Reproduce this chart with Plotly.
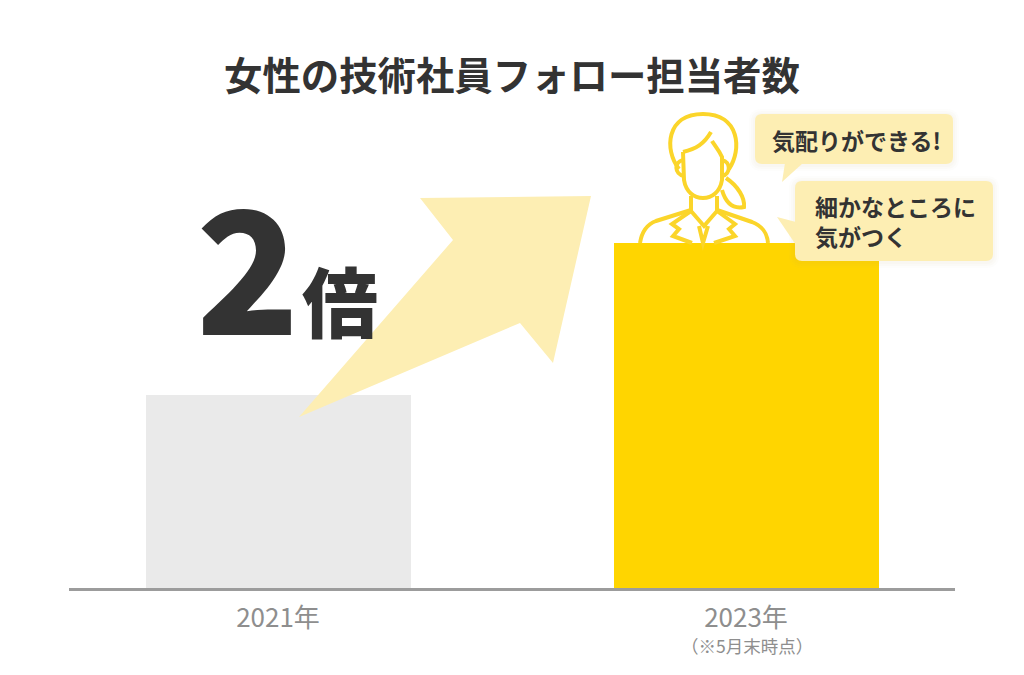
import plotly.graph_objects as go

categories = ["2021年", "2023年"]
values = [1.0, 1.788]
bar_colors = ["#EAEAEA", "#FFD500"]
title = "女性の技術社員フォロー担当者数"
note = "（※5月末時点）"
bubble_1 = "気配りができる!"
bubble_2_lines = ["細かなところに", "気がつく"]
W, H = 1024, 675
FONT = "Noto Sans CJK JP"
INK = "#333333"
TINT = "#FDEEB3"
GOLD = "#FBD52A"


def rrect(x0, y0, x1, y1, r=7):
    return (f"M{x0+r},{y0} L{x1-r},{y0} Q{x1},{y0} {x1},{y0+r} L{x1},{y1-r} Q{x1},{y1} {x1-r},{y1} "
            f"L{x0+r},{y1} Q{x0},{y1} {x0},{y1-r} L{x0},{y0+r} Q{x0},{y0} {x0+r},{y0} Z")


def fill(path, color=TINT, layer="above"):
    return dict(type="path", path=path, xref="x2", yref="y2", fillcolor=color,
                line=dict(width=0), layer=layer)


def stroke(path, w=4):
    return dict(type="path", path=path, xref="x2", yref="y2",
                line=dict(color=GOLD, width=w), layer="above")


shapes = []
# arrow
shapes.append(fill("M299,417 L453,240 L420,198 L591,196 L553,363 L520,323 Z"))
# person
person = [
    "M679,169 C664,150 666,114 703,114 C740,114 742,150 729,169",          # hair
    "M683,152 L684,180 C686,192 694,198 703,198 C712,198 720,192 722,180 L722,157 C719,150 715,146 712,141",  # face
    "M683,152 C696,149 704,144 711,132",                                   # parting
    "M683,160 C674,162 674,174 684,176",                                   # left ear
    "M722,160 C731,162 731,174 722,176",                                   # right ear
    "M726,178 C738,186 745,198 744,207 C734,209 726,204 722,190",          # ponytail
    "M691,196 L691,211 M717,196 L717,211",                                 # neck
    "M640,243 C642,230 648,224 656,221 L691,210 M717,210 L752,222 C762,226 767,232 768,243",  # shoulders
    "M691,211 L672,224 L679,229 L673,236 L692,243 M717,211 L735,224 L729,229 L735,236 L714,243",  # lapels
    "M691,211 L704,226 L717,211 M699,226 L703,243 L708,226",               # collar and tie
]
shapes += [stroke(p) for p in person]
# bubble soft shadows
for grow, alpha in ((6, 0.025), (4, 0.03), (2, 0.035)):
    shapes.append(fill(rrect(755-grow, 114-grow+1, 953+grow, 164+grow+1, 7+grow), f"rgba(190,170,110,{alpha})"))
    shapes.append(fill(rrect(795-grow, 181-grow+1, 993+grow, 261+grow+1, 7+grow), f"rgba(190,170,110,{alpha})"))
# bubbles
shapes.append(fill(rrect(755, 114, 953, 164)))
shapes.append(fill("M785,163 L782,182 L803,163 Z"))
shapes.append(fill(rrect(795, 181, 993, 261)))
shapes.append(fill("M796,222 L777,217 L796,245 Z"))


def text(x, y, s, size, color=INK, weight=700, anchor="center", align="center"):
    return dict(x=x, y=y, xref="x2", yref="y2", text=s, showarrow=False, xanchor=anchor, yanchor="middle",
                align=align, font=dict(family=FONT, size=size, color=color, weight=weight))


annotations = [
    text(512, 73, title, 38.4),
    text(248, 261, "2", 170, weight=900),
    text(340, 299, "倍", 76, weight=900),
    text(856, 140, bubble_1, 23),
    text(813, 206, bubble_2_lines[0], 23, anchor="left", align="left"),
    text(813, 236, bubble_2_lines[1], 23, anchor="left", align="left"),
    text(747, 645, note, 17.5, color="#8E8E8E", weight=400),
]

fig = go.Figure()
fig.add_trace(go.Bar(x=categories, y=values, marker=dict(color=bar_colors, line=dict(width=0)),
                     width=265 / 468, hoverinfo="skip", showlegend=False))
# invisible full-page helper axes for the decorations
fig.add_trace(go.Scatter(x=[0], y=[0], xaxis="x2", yaxis="y2", mode="markers",
                         marker=dict(opacity=0), hoverinfo="skip", showlegend=False))
fig.update_layout(
    width=W, height=H, autosize=False,
    margin=dict(l=0, r=0, t=0, b=0),
    paper_bgcolor="white", plot_bgcolor="rgba(0,0,0,0)",
    bargap=0,
    xaxis=dict(domain=[69 / W, 955 / W], anchor="y", type="category",
               range=[-209 / 468, 677 / 468], showline=True, linecolor="#9C9C9C", linewidth=3,
               ticks="", showgrid=False, zeroline=False, ticklabelstandoff=5,
               tickfont=dict(family=FONT, size=26, color="#8E8E8E")),
    yaxis=dict(domain=[87 / H, 1], anchor="x", range=[0, 588 / 193], visible=False,
               showgrid=False, zeroline=False),
    xaxis2=dict(domain=[0, 1], anchor="y2", range=[0, W], visible=False, showgrid=False, zeroline=False),
    yaxis2=dict(domain=[0, 1], anchor="x2", range=[H, 0], visible=False, showgrid=False, zeroline=False),
    shapes=shapes, annotations=annotations,
)
fig.write_html("out.html", config=dict(displayModeBar=False),
               post_script="document.body.style.margin='0';document.documentElement.style.overflow='hidden';")
